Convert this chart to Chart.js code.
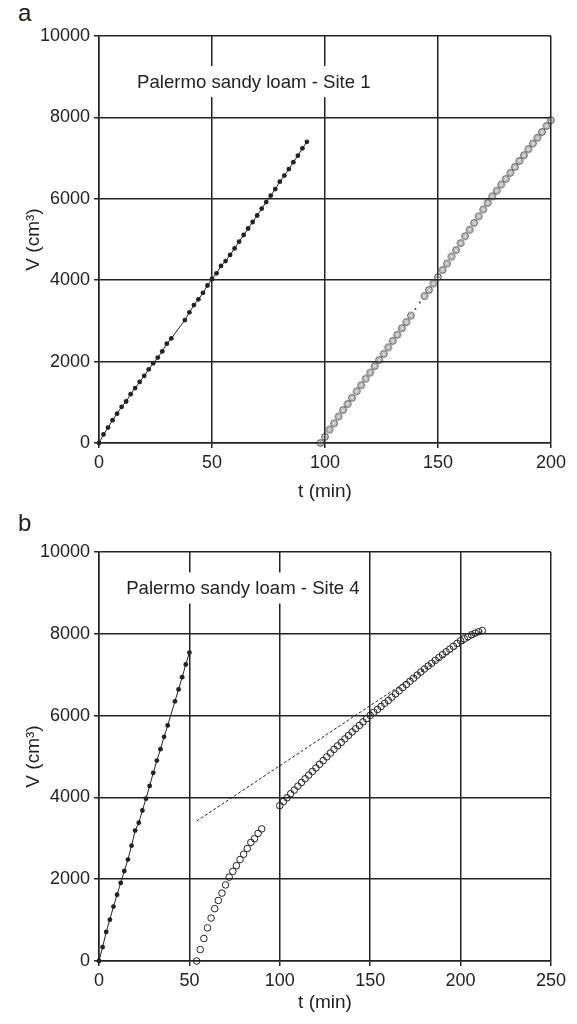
<!DOCTYPE html>
<html>
<head>
<meta charset="utf-8">
<script src="https://cdn.jsdelivr.net/npm/chart.js@4.4.1/dist/chart.umd.min.js"></script>
<style>
  body { margin: 0; background: #fff; }
  .panel { position: relative; width: 577px; height: 512px; }
  .panel canvas { position: absolute; left: 0; top: 0; }
  .tag { position: absolute; left: 18px; font: 24px "Liberation Sans", Arial, sans-serif; color: #222; }
</style>
</head>
<body>
<div class="panel"><span class="tag" style="top:-1px">a</span><canvas id="chartA" width="577" height="512"></canvas></div>
<div class="panel"><span class="tag" style="top:-3px">b</span><canvas id="chartB" width="577" height="512"></canvas></div>
<script>
// ---- Site 1 ----
const site1FirstT = [0, 2, 4, 6, 8, 10, 12, 14, 16, 18, 20, 22, 24, 26, 28, 30, 32,
  38, 40, 42, 44, 46, 48, 50, 52, 54, 56, 58, 60, 62, 64, 66, 68, 70, 72, 74, 76, 78,
  80, 82, 84, 86, 88, 90, 92];
const site1FirstV = [0, 210, 380, 560, 720, 890, 1020, 1200, 1350, 1500, 1650, 1810, 1960, 2100, 2250, 2440, 2570,
  3020, 3210, 3390, 3530, 3690, 3870, 4030, 4170, 4350, 4470, 4620, 4780, 4950, 5110, 5270, 5430, 5590, 5760, 5920, 6080, 6240,
  6420, 6570, 6730, 6900, 7060, 7240, 7400];

const site1SecondT = [98, 100, 102, 104, 106, 108, 110, 112, 114, 116, 118, 120, 122, 124, 126, 128,
  130, 132, 134, 136, 138, 140, 142, 144, 146, 148, 150, 152, 154, 156, 158, 160, 162, 164, 166, 168,
  170, 172, 174, 176, 178, 180, 182, 184, 186, 188, 190, 192, 194, 196, 198, 200];
const site1SecondV = [0, 155, 330, 485, 650, 810, 960, 1110, 1270, 1420, 1580, 1730, 1890, 2040, 2190, 2350,
  2510, 2660, 2820, 2970, 3130, 3290, 3450, 3610, 3760, 3920, 4080, 4250, 4410, 4580, 4740, 4910, 5080, 5240, 5410, 5570,
  5740, 5900, 6060, 6200, 6350, 6490, 6640, 6780, 6930, 7070, 7220, 7360, 7500, 7640, 7790, 7930];
const site1FaintT = [140, 142]; // drawn as tiny dots in the original

// ---- Site 4 ----
const site4FirstT = [0, 2, 4, 6, 8, 10, 12, 14, 16, 18, 20, 22, 24, 26, 28, 30, 32, 34, 36, 38,
  42, 44, 46, 48, 50];
const site4FirstV = [0, 340, 710, 1010, 1330, 1620, 1910, 2200, 2480, 2820, 3190, 3380, 3680, 3970, 4280, 4600, 4900, 5180, 5480, 5760,
  6350, 6640, 6940, 7250, 7540];

const site4EarlyT = [54, 56, 58, 60, 62, 64, 66, 68, 70, 72, 74, 76, 78, 80, 82, 84, 86, 88, 90];
const site4EarlyV = [0, 280, 550, 810, 1050, 1280, 1480, 1660, 1860, 2050, 2190, 2330, 2480, 2610, 2750, 2900, 2990, 3120, 3230];

const site4LateT = [100, 102, 104, 106, 108, 110, 112, 114, 116, 118, 120, 122, 124, 126, 128, 130, 132, 134, 136, 138,
  140, 142, 144, 146, 148, 150, 152, 154, 156, 158, 160, 162, 164, 166, 168, 170, 172, 174, 176, 178,
  180, 182, 184, 186, 188, 190, 192, 194, 196, 198, 200, 202, 204, 206, 208, 210, 212];
const site4LateV = [3800, 3900, 3990, 4090, 4180, 4275, 4365, 4455, 4545, 4635, 4720, 4810, 4900, 4990, 5085, 5175, 5260, 5345, 5430, 5515,
  5600, 5680, 5760, 5845, 5925, 6005, 6080, 6150, 6225, 6300, 6370, 6450, 6530, 6605, 6685, 6760, 6840, 6915, 6990, 7065,
  7140, 7210, 7280, 7350, 7420, 7490, 7560, 7625, 7695, 7765, 7830, 7880, 7930, 7975, 8015, 8050, 8080];

const site4FitT = [54, 212];
const site4FitV = [3420, 8070];

const yTicks = [0, 2000, 4000, 6000, 8000, 10000];

const ink = "#222";
const fontFamily = '"Liberation Sans", Arial, sans-serif';
Chart.defaults.font.family = fontFamily;
Chart.defaults.color = ink;

function pts(ts, vs) {
  return ts.map((t, i) => ({ x: t, y: vs[i] }));
}

// ring with a small ring inside, like the grey markers of site 1
const ringImg = document.createElement("canvas");
ringImg.width = 10; ringImg.height = 10;
(function () {
  const g = ringImg.getContext("2d");
  g.strokeStyle = "#333";
  g.lineWidth = 1;
  g.beginPath(); g.arc(5, 5, 3.3, 0, Math.PI * 2); g.stroke();
  g.strokeStyle = "#888";
  g.lineWidth = 0.8;
  g.beginPath(); g.arc(5, 5, 1.5, 0, Math.PI * 2); g.stroke();
})();

// white box with text, placed in data units
const boxLabel = {
  id: "boxLabel",
  beforeDatasetsDraw(chart, args, opts) {
    const { ctx, scales } = chart;
    const cx = scales.x.getPixelForValue(opts.x);
    const cy = scales.y.getPixelForValue(opts.y);
    ctx.save();
    ctx.font = "18.6px " + fontFamily;
    const w = ctx.measureText(opts.text).width + 10;
    ctx.fillStyle = "#fff";
    ctx.fillRect(cx - w / 2, cy - 15.5, w, 31);
    ctx.fillStyle = ink;
    ctx.textAlign = "center";
    ctx.textBaseline = "middle";
    ctx.fillText(opts.text, cx, cy + 1);
    ctx.restore();
  },
};

function makeOptions(xMax, padTop, axisH, titlePad, label) {
  return {
    responsive: false,
    animation: false,
    layout: { padding: { top: padTop, right: 26, left: 0, bottom: 0 } },
    plugins: { legend: { display: false }, tooltip: { enabled: false }, boxLabel: label },
    scales: {
      x: {
        type: "linear", min: 0, max: xMax,
        ticks: { stepSize: 50, font: { size: 18 }, padding: 4, color: ink, callback: (v) => String(v) },
        grid: { color: ink, lineWidth: 1.5, tickLength: 5 },
        border: { color: ink, width: 1.5 },
        title: { display: true, text: "t (min)", font: { size: 19 }, padding: { bottom: titlePad }, color: ink },
        afterFit: (s) => { s.height = axisH; },
      },
      y: {
        type: "linear", min: 0, max: 10000,
        afterBuildTicks: (s) => { s.ticks = yTicks.map((v) => ({ value: v })); },
        ticks: { font: { size: 18 }, padding: 4, color: ink, callback: (v) => String(v) },
        grid: { color: ink, lineWidth: 1.5, tickLength: 5 },
        border: { color: ink, width: 1.5 },
        title: { display: true, text: "V (cm³)", font: { size: 19 }, padding: { top: 22 }, color: ink },
        afterFit: (s) => { s.width = 99; },
      },
    },
  };
}

new Chart(document.getElementById("chartA"), {
  type: "scatter",
  plugins: [boxLabel],
  data: {
    datasets: [
      {
        data: pts(site1SecondT, site1SecondV),
        showLine: false,
        clip: false,
        pointStyle: (c) => site1FaintT.includes(site1SecondT[c.dataIndex]) ? "circle" : ringImg,
        pointRadius: (c) => site1FaintT.includes(site1SecondT[c.dataIndex]) ? 1 : 4,
        pointBackgroundColor: "#444",
        pointBorderWidth: 0,
      },
      {
        data: pts(site1FirstT, site1FirstV),
        showLine: true,
        clip: false,
        borderColor: ink,
        borderWidth: 1,
        pointRadius: 2.4,
        pointBackgroundColor: ink,
        pointBorderWidth: 0,
      },
    ],
  },
  options: makeOptions(200, 36, 69, 9, { text: "Palermo sandy loam - Site 1", x: 68.5, y: 8880 }),
});

new Chart(document.getElementById("chartB"), {
  type: "scatter",
  plugins: [boxLabel],
  data: {
    datasets: [
      {
        data: pts(site4FitT, site4FitV),
        showLine: true,
        borderColor: ink,
        borderWidth: 1,
        borderDash: [3, 2],
        pointRadius: 0,
      },
      {
        data: pts(site4EarlyT, site4EarlyV),
        showLine: false,
        clip: false,
        pointRadius: 3.3,
        pointBackgroundColor: "rgba(0,0,0,0)",
        pointBorderColor: ink,
        pointBorderWidth: 1,
      },
      {
        data: pts(site4LateT, site4LateV),
        showLine: false,
        pointRadius: 3.3,
        pointBackgroundColor: "rgba(0,0,0,0)",
        pointBorderColor: ink,
        pointBorderWidth: 1,
      },
      {
        data: pts(site4FirstT, site4FirstV),
        showLine: true,
        clip: false,
        borderColor: ink,
        borderWidth: 1,
        pointRadius: 2.4,
        pointBackgroundColor: ink,
        pointBorderWidth: 0,
      },
    ],
  },
  options: makeOptions(250, 40, 63, 10, { text: "Palermo sandy loam - Site 4", x: 79.6, y: 9120 }),
});
</script>
</body>
</html>
